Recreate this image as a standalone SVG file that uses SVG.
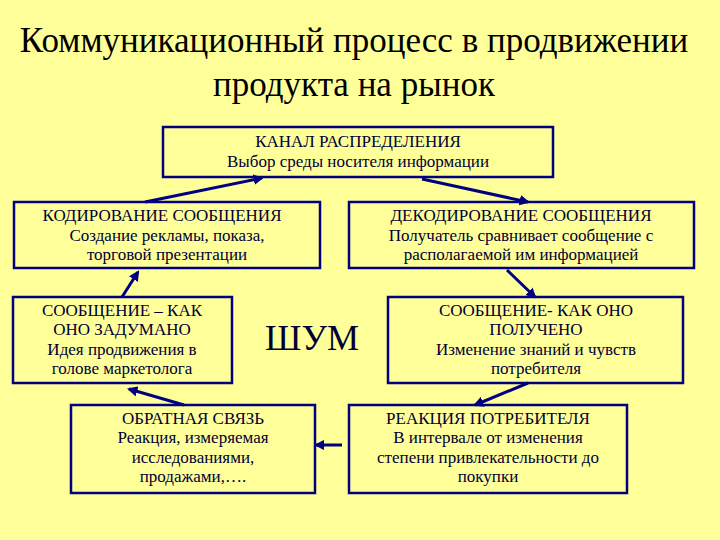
<svg xmlns="http://www.w3.org/2000/svg" width="720" height="540" viewBox="0 0 720 540">
<defs>
<style>
.b{fill:none;stroke:#000080;stroke-width:2.5}
.t{font-family:'Liberation Serif','Times New Roman','DejaVu Serif',serif;font-size:17px;fill:#000033;text-anchor:middle}
.h{font-family:'Liberation Serif','Times New Roman','DejaVu Serif',serif;font-size:35px;fill:#000;text-anchor:middle}
.c{stroke:#000080;stroke-width:3;fill:none;marker-end:url(#a)}
</style>
<marker id="a" viewBox="0 0 10 10" refX="8" refY="5" markerWidth="3.5" markerHeight="3.5" orient="auto"><path d="M0,0L10,5L0,10z" fill="#000080"/></marker>
</defs>
<rect width="720" height="540" fill="#FFFF99"/>
<text class="h" x="354" y="52">Коммуникационный процесс в продвижении</text>
<text class="h" x="354" y="96">продукта на рынок</text>
<g id="kanal"><rect class="b" x="163" y="127" width="390" height="50"/><text class="t" x="358" y="147">КАНАЛ РАСПРЕДЕЛЕНИЯ</text><text class="t" x="358" y="167">Выбор среды носителя информации</text></g>
<g id="kod"><rect class="b" x="14" y="202" width="306" height="66"/><text class="t" x="162" y="221">КОДИРОВАНИЕ СООБЩЕНИЯ</text><text class="t" x="167" y="241">Создание рекламы, показа,</text><text class="t" x="167" y="260">торговой презентации</text></g>
<g id="dekod"><rect class="b" x="349" y="202" width="345" height="66"/><text class="t" x="521" y="221">ДЕКОДИРОВАНИЕ СООБЩЕНИЯ</text><text class="t" x="521" y="241">Получатель сравнивает сообщение с</text><text class="t" x="521" y="260">располагаемой им информацией</text></g>
<g id="zadumano"><rect class="b" x="13" y="297" width="219" height="86"/><text class="t" x="122" y="316">СООБЩЕНИЕ – КАК</text><text class="t" x="122" y="335">ОНО ЗАДУМАНО</text><text class="t" x="122" y="355">Идея продвижения в</text><text class="t" x="122" y="374">голове маркетолога</text></g>
<g id="shum"><text class="t" x="312" y="350" style="font-size:36px">ШУМ</text></g>
<g id="polucheno"><rect class="b" x="388" y="297" width="295" height="86"/><text class="t" x="536" y="316">СООБЩЕНИЕ- КАК ОНО</text><text class="t" x="536" y="335">ПОЛУЧЕНО</text><text class="t" x="536" y="355">Изменение знаний и чувств</text><text class="t" x="536" y="374">потребителя</text></g>
<g id="obratnaya"><rect class="b" x="71" y="405" width="244" height="88"/><text class="t" x="193" y="424">ОБРАТНАЯ СВЯЗЬ</text><text class="t" x="193" y="443">Реакция, измеряемая</text><text class="t" x="193" y="463">исследованиями,</text><text class="t" x="193" y="482">продажами,….</text></g>
<g id="reakciya"><rect class="b" x="349" y="405" width="278" height="88"/><text class="t" x="488" y="424">РЕАКЦИЯ ПОТРЕБИТЕЛЯ</text><text class="t" x="488" y="443">В интервале от изменения</text><text class="t" x="488" y="463">степени привлекательности до</text><text class="t" x="488" y="482">покупки</text></g>
<g id="connectors">
<line class="c" x1="145" y1="202" x2="262" y2="178"/>
<line class="c" x1="422" y1="179" x2="528" y2="202"/>
<line class="c" x1="122" y1="297" x2="138" y2="272"/>
<line class="c" x1="507" y1="270" x2="535" y2="297"/>
<line class="c" x1="528" y1="383" x2="475" y2="405"/>
<line class="c" x1="184" y1="405" x2="129" y2="389"/>
<line class="c" x1="342" y1="445" x2="316" y2="445"/>
</g>
</svg>
